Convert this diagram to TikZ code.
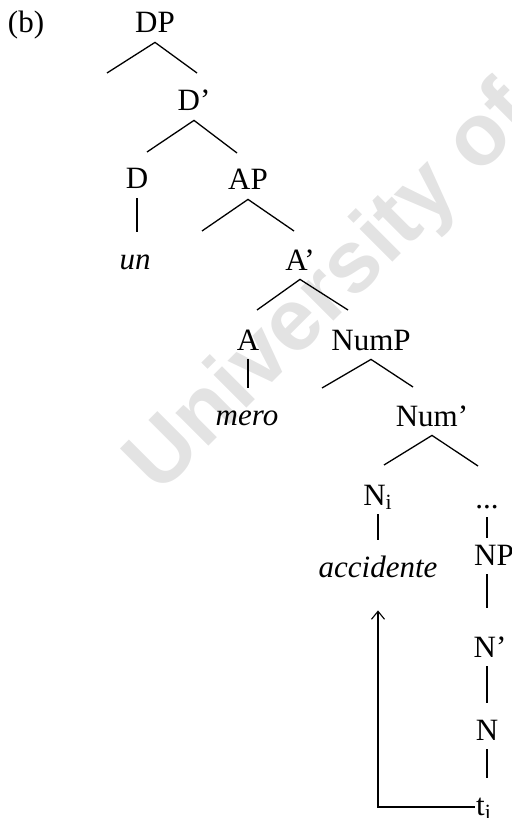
\documentclass[tikz,border=0pt]{standalone}
\usepackage{fontspec}
\setmainfont{Liberation Serif}
\newfontfamily\wmfont{Liberation Sans}
\usetikzlibrary{arrows.meta, calc}

\begin{document}
\begin{tikzpicture}[
    x=0.5pt, y=-0.5pt,
    cat/.style={inner xsep=0pt, inner ysep=4.5pt, text height=14pt,
                text depth=0pt, anchor=base,
                font=\fontsize{15.5}{18}\selectfont},
    word/.style={cat, font=\fontsize{15.5}{18}\selectfont\itshape},
    branch/.style={line width=0.65pt},
    move/.style={line width=0.55pt,
                 -{Straight Barb[length=4pt,width=6.5pt]}},
    wmark/.style={anchor=base west, rotate=45, text=black!11,
                  font=\wmfont\bfseries\fontsize{44}{50}\selectfont},
]
\useasboundingbox (0,0) rectangle (512,818);

% faint watermark behind the tree
\node[wmark] (wm) at (155,500) {University of Cape Town};

%---------------------------------------------------------------
% labels of the tree
%---------------------------------------------------------------
\node[cat] (lbl) at (26,33) {(b)};
\node[cat] (dp) at (155,33) {DP};
\node[cat] (dbar) at (194,111) {D'};
\node[cat] (d) at (137,189) {D};
\node[cat] (ap) at (248,190) {AP};
\node[word] (un) at (135,269) {un};
\node[cat] (abar) at (300,270) {A'};
\node[cat] (a) at (248,350) {A};
\node[cat] (nump) at (371,350) {NumP};
\node[word] (mero) at (247,425) {mero};
\node[cat] (numbar) at (432,426) {Num'};
\node[cat] (ni) at (378,505) {N\textsubscript{i}};
\node[cat] (dots) at (487,508) {...};
\node[word] (acc) at (378,577) {accidente};
\node[cat, text height=9pt] (np) at (494,565) {NP};
\node[cat] (nbar) at (490,657) {N'};
\node[cat] (n) at (487,740) {N};
\node[cat] (ti) at (484,815) {t\textsubscript{i}};

%---------------------------------------------------------------
% lower ends of the branches
%---------------------------------------------------------------
\coordinate (dp-l) at (107,73);
\coordinate (dp-r) at (197,73);
\coordinate (dbar-l) at (147,152);
\coordinate (dbar-r) at (237,153);
\coordinate (ap-l) at (202,231);
\coordinate (ap-r) at (294,231);
\coordinate (abar-l) at (257,310);
\coordinate (abar-r) at (348,310);
\coordinate (nump-l) at (322,388);
\coordinate (nump-r) at (413,387);
\coordinate (numbar-l) at (384,465);
\coordinate (numbar-r) at (478,466);

\foreach \p in {dp,dbar,ap,abar,nump,numbar} {
    \draw[branch] (\p-l) -- (\p.south) -- (\p-r);
}

% unary lines
\draw[branch] (d.south) -- (d.south |- un.north);
\draw[branch] (a.south) -- (a.south |- mero.north);
\draw[branch] (ni.south) -- (acc.north);
\draw[branch] (dots.south) -- (dots.south |- np.north);
\draw[branch, shorten >=6pt] (dots.south |- np.south) -- (dots.south |- nbar.north);
\draw[branch] (n.north |- nbar.south) -- (n.north);
\draw[branch] (n.south) -- (n.south |- ti.north);

% movement of the noun
\draw[move] ($(ti.base west)+(-1,-8)$) -| ($(acc.south)+(0,24)$);

\end{tikzpicture}
\end{document}
